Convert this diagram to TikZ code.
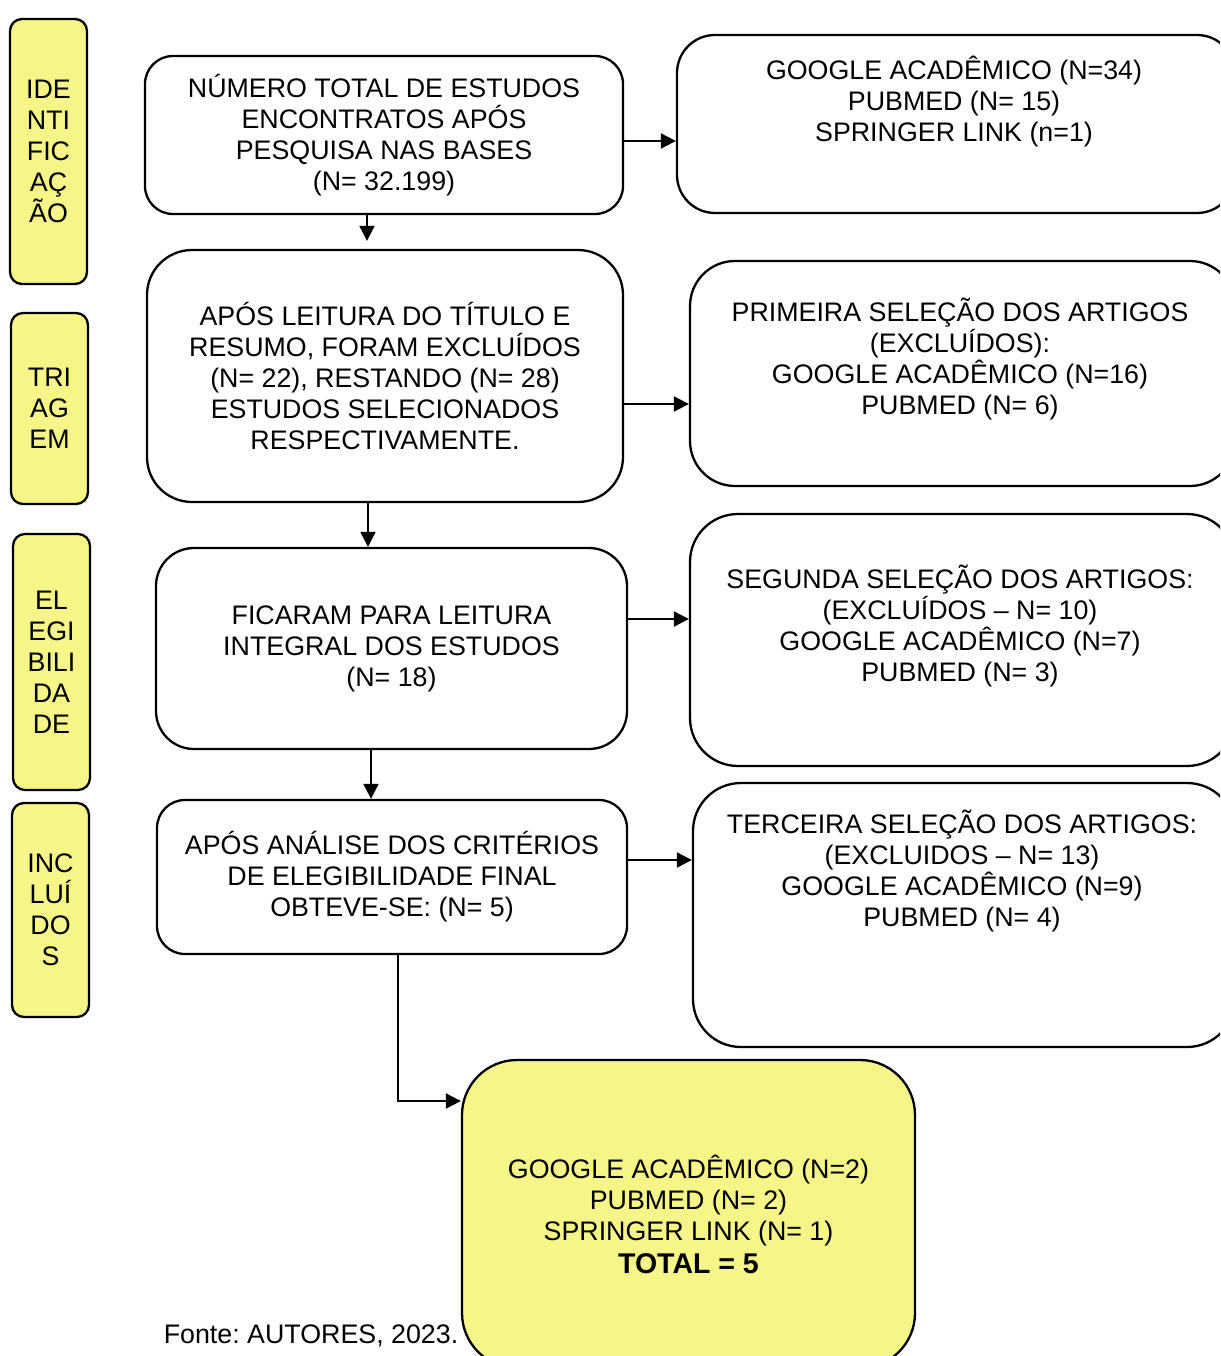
\documentclass[tikz,border=0pt]{standalone}
\usepackage{fontspec}
\setmainfont{Liberation Sans}
\usetikzlibrary{arrows.meta,calc}
\definecolor{hiyel}{RGB}{246,246,136}
\frenchspacing
\tikzset{
  box/.style={draw, line width=2.3pt, inner sep=0pt, align=center,
    font=\fontsize{26.8}{31}\selectfont},
  lab/.style={box, fill=hiyel, rounded corners=12pt, minimum width=77pt},
  txt/.style={align=center, inner sep=0pt, font=\fontsize{26.8}{31}\selectfont},
  arr/.style={line width=2pt, -{Triangle[length=15pt,width=15pt]}},
}
\begin{document}
\begin{tikzpicture}[x=1pt,y=-1pt]
\useasboundingbox (0,0) rectangle (1220,1356);
\clip (0,0) rectangle (1220,1356);
\fill[white] (0,0) rectangle (1220,1356);

% phase labels
\node[lab, minimum height=265pt] (l1) at (48.5,151.5) {IDE\\NTI\\FIC\\AÇ\\ÃO};
\node[lab, minimum height=191pt] (l2) at (49.5,408.5) {TRI\\AG\\EM};
\node[lab, minimum height=256pt] (l3) at (51.5,662) {EL\\EGI\\BILI\\DA\\DE};
\node[lab, minimum height=214pt] (l4) at (50.5,910) {INC\\LUÍ\\DO\\S};

% main column
\node[box, rounded corners=28pt, minimum width=478pt, minimum height=158pt] (b1) at (384,135)
  {NÚMERO TOTAL DE ESTUDOS\\ENCONTRATOS APÓS\\PESQUISA NAS BASES\\(N= 32.199)};
\node[box, rounded corners=45pt, minimum width=476pt, minimum height=252pt] (b2) at (385,376)
  {APÓS LEITURA DO TÍTULO E\\RESUMO, FORAM EXCLUÍDOS\\(N= 22), RESTANDO (N= 28)\\ESTUDOS SELECIONADOS\\RESPECTIVAMENTE.};
\node[box, rounded corners=38pt, minimum width=471pt, minimum height=201pt] (b3) at (391.5,648.5)
  {FICARAM PARA LEITURA\\INTEGRAL DOS ESTUDOS\\(N= 18)};
\node[box, rounded corners=28pt, minimum width=470pt, minimum height=154pt] (b4) at (392,877)
  {APÓS ANÁLISE DOS CRITÉRIOS\\DE ELEGIBILIDADE FINAL\\OBTEVE-SE: (N= 5)};
\node[box, fill=hiyel, rounded corners=55pt, minimum width=453pt, minimum height=308pt] (b5) at (688.5,1214)
  {GOOGLE ACADÊMICO (N=2)\\PUBMED (N= 2)\\SPRINGER LINK (N= 1)\\[2pt]{\fontsize{28.5}{31}\selectfont\bfseries TOTAL = 5}};

% right column
\node[box, rounded corners=38pt, minimum width=558pt, minimum height=178pt] (r1) at (956,124) {};
\node[box, rounded corners=45pt, minimum width=545pt, minimum height=225pt] (r2) at (962.5,373.5) {};
\node[box, rounded corners=48pt, minimum width=545pt, minimum height=252pt] (r3) at (962.5,640) {};
\node[box, rounded corners=48pt, minimum width=542pt, minimum height=264pt] (r4) at (964,915) {};

\node[txt] (t1) at (954,101.5) {GOOGLE ACADÊMICO (N=34)\\PUBMED (N= 15)\\SPRINGER LINK (n=1)};
\node[txt] (t2) at (960,359.5) {PRIMEIRA SELEÇÃO DOS ARTIGOS\\(EXCLUÍDOS):\\GOOGLE ACADÊMICO (N=16)\\PUBMED (N= 6)};
\node[txt] (t3) at (960,626.5) {SEGUNDA SELEÇÃO DOS ARTIGOS:\\(EXCLUÍDOS – N= 10)\\GOOGLE ACADÊMICO (N=7)\\PUBMED (N= 3)};
\node[txt] (t4) at (962,871) {TERCEIRA SELEÇÃO DOS ARTIGOS:\\(EXCLUIDOS – N= 13)\\GOOGLE ACADÊMICO (N=9)\\PUBMED (N= 4)};

% connectors
\draw[arr] ([xshift=-17pt]b1.south) -- ([xshift=-17pt,yshift=8pt]b1.south |- b2.north);
\draw[arr] ([xshift=-17pt]b2.south) -- ([xshift=-17pt]b2.south |- b3.north);
\draw[arr] ([xshift=-20.5pt]b3.south) -- ([xshift=-20.5pt]b3.south |- b4.north);
\draw[arr] ([yshift=-6pt]b1.east) -- ([yshift=-6pt]b1.east -| r1.west);
\draw[arr] ([yshift=-28pt]b2.east) -- ([yshift=-28pt]b2.east -| r2.west);
\draw[arr] ([yshift=29.5pt]b3.east) -- ([yshift=29.5pt]b3.east -| r3.west);
\draw[arr] ([yshift=17pt]b4.east) -- ([yshift=17pt]b4.east -| r4.west);
\draw[arr] ([xshift=-59pt,yshift=1pt]b4.south) -- ([xshift=6pt,yshift=1pt]b4.south) |- ([yshift=113pt]b5.west);

% source
\node[txt] (src) at (311,1336) {Fonte: AUTORES, 2023.};
\end{tikzpicture}
\end{document}
